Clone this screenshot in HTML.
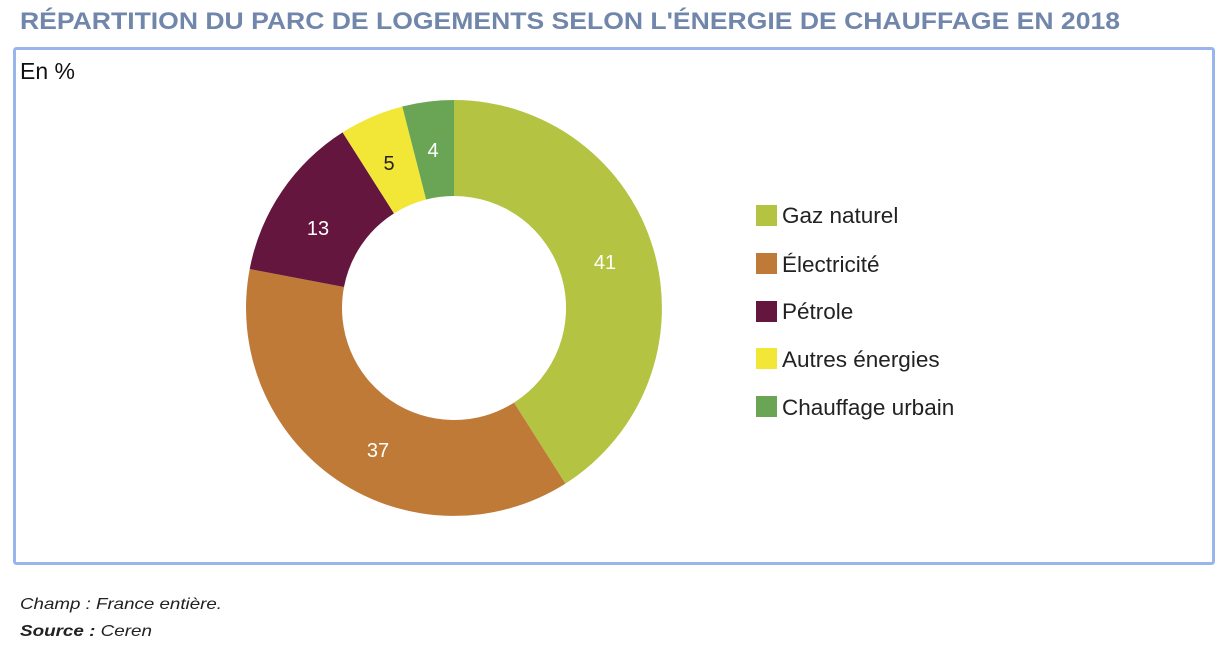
<!DOCTYPE html>
<html><head><meta charset="utf-8"><style>
html,body{margin:0;padding:0;background:#fff;width:1231px;height:656px;overflow:hidden;font-family:"Liberation Sans",sans-serif}
</style></head><body>
<svg width="1231" height="656" viewBox="0 0 1231 656" xmlns="http://www.w3.org/2000/svg" style="position:absolute;left:0;top:0">
<text x="20" y="29" font-family="Liberation Sans, sans-serif" font-weight="bold" font-size="24" fill="#7186ab" textLength="1100" lengthAdjust="spacingAndGlyphs">RÉPARTITION DU PARC DE LOGEMENTS SELON L'ÉNERGIE DE CHAUFFAGE EN 2018</text>
<rect x="14.5" y="48.5" width="1199" height="515" fill="#fff" stroke="#9ab5ee" stroke-width="3" rx="2"/>
<text x="20" y="79" font-size="23" fill="#111">En %</text>
<path d="M454,100 A208,208 0 0 1 565.4,483.6 L514.0,402.6 A112,112 0 0 0 454,196 Z" fill="#b5c342"/>
<path d="M565.4,483.6 A208,208 0 0 1 249.7,269.0 L344.0,287.0 A112,112 0 0 0 514.0,402.6 Z" fill="#bf7a37"/>
<path d="M249.7,269.0 A208,208 0 0 1 342.6,132.4 L394.0,213.4 A112,112 0 0 0 344.0,287.0 Z" fill="#65163f"/>
<path d="M342.6,132.4 A208,208 0 0 1 402.3,106.5 L426.1,199.5 A112,112 0 0 0 394.0,213.4 Z" fill="#f2e737"/>
<path d="M402.3,106.5 A208,208 0 0 1 454,100 L454,196 A112,112 0 0 0 426.1,199.5 Z" fill="#6aa556"/>
<g font-size="20" text-anchor="middle">
<text x="605" y="269" fill="#fff">41</text>
<text x="378" y="457" fill="#fff">37</text>
<text x="318" y="235" fill="#fff">13</text>
<text x="389" y="170" fill="#222">5</text>
<text x="433" y="157" fill="#fff">4</text>
</g>
<g font-size="22.5" fill="#222">
<rect x="756" y="205" width="21" height="21" fill="#b5c342"/><text x="782" y="223">Gaz naturel</text>
<rect x="756" y="253" width="21" height="21" fill="#bf7a37"/><text x="782" y="272">Électricité</text>
<rect x="756" y="301" width="21" height="21" fill="#65163f"/><text x="782" y="319">Pétrole</text>
<rect x="756" y="348" width="21" height="21" fill="#f2e737"/><text x="782" y="367">Autres énergies</text>
<rect x="756" y="396" width="21" height="21" fill="#6aa556"/><text x="782" y="415">Chauffage urbain</text>
</g>
<text x="20" y="609" font-size="16" font-style="italic" fill="#222" textLength="202" lengthAdjust="spacingAndGlyphs">Champ : France entière.</text>
<text x="20" y="636" font-size="16" font-style="italic" fill="#222" textLength="132" lengthAdjust="spacingAndGlyphs"><tspan font-weight="bold">Source :</tspan> Ceren</text>
</svg>
</body></html>
